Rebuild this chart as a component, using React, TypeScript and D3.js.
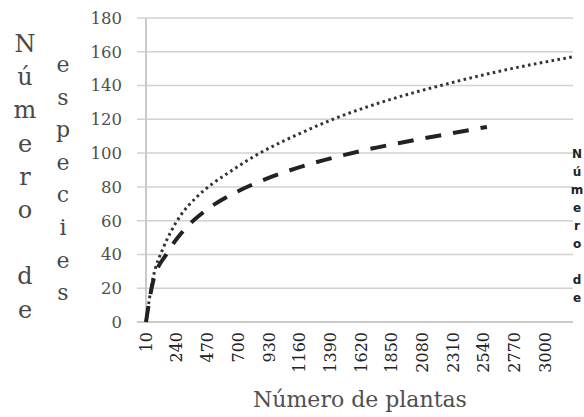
import React from "react";
import * as d3 from "d3";

// curve readings (Número de plantas -> Número de especies)
const dottedX = [10, 60, 140, 200, 260, 390, 510, 640, 840, 1010, 1160, 1410, 1790, 2290, 2660, 3210];
const dottedY = [0, 25, 44, 54, 62, 74, 82, 89, 99, 106, 111.5, 120, 130.5, 141.5, 148.5, 157];
const dashedX = [10, 60, 170, 290, 440, 640, 840, 1040, 1260, 1490, 1690, 1910, 2290, 2565];
const dashedY = [0, 23, 41, 54, 65, 75, 82.5, 88.5, 94, 98.8, 102.5, 106, 111.6, 115.5];

const xTicks = [10, 240, 470, 700, 930, 1160, 1390, 1620, 1850, 2080, 2310, 2540, 2770, 3000];
const yTicks = [0, 20, 40, 60, 80, 100, 120, 140, 160, 180];

const leftCol1 = ["N", "ú", "m", "e", "r", "o", "", "d", "e"];
const leftCol2 = ["e", "s", "p", "e", "c", "i", "e", "s"];
const rightCol = ["N", "ú", "m", "e", "r", "o", "", "d", "e"];

const W = 584;
const H = 417;
const serif = "'DejaVu Serif', serif";

export default function App() {
  const x = d3.scaleLinear().domain([10, 3210]).range([146, 573]);
  const y = d3.scaleLinear().domain([0, 180]).range([322, 18]);

  const line = d3
    .line<[number, number]>()
    .x((d) => x(d[0]))
    .y((d) => y(d[1]))
    .curve(d3.curveMonotoneX);

  const dotted = line(dottedX.map((v, i) => [v, dottedY[i]] as [number, number])) || "";
  const dashed = line(dashedX.map((v, i) => [v, dashedY[i]] as [number, number])) || "";

  return (
    <svg
      width={W}
      height={H}
      style={{ position: "absolute", left: 0, top: 0, background: "#fff" }}
    >
      {/* gridlines */}
      {yTicks.map((t) => (
        <line
          key={t}
          x1={137}
          x2={573}
          y1={y(t)}
          y2={y(t)}
          stroke={t === 0 ? "#b8b8b8" : "#d2d2d2"}
          strokeWidth={1.5}
        />
      ))}
      <line x1={146} x2={146} y1={y(180)} y2={y(0)} stroke="#cacaca" strokeWidth={2} />

      {/* y tick labels */}
      {yTicks.map((t) => (
        <text
          key={t}
          x={122}
          y={y(t)}
          dy="0.36em"
          textAnchor="end"
          fontFamily={serif}
          fontSize={16.5}
          fill="#505050"
        >
          {t}
        </text>
      ))}

      {/* x tick labels */}
      {xTicks.map((t) => (
        <text
          key={t}
          transform={`translate(${x(t)},332) rotate(-90)`}
          dy="0.36em"
          textAnchor="end"
          fontFamily={serif}
          fontSize={16}
          fill="#222"
        >
          {t}
        </text>
      ))}

      {/* curves */}
      <path d={dotted} fill="none" stroke="#333" strokeWidth={3} strokeDasharray="2.6,3.4" />
      <path d={dashed} fill="none" stroke="#222" strokeWidth={4} strokeDasharray="16,12" />

      {/* x title */}
      <text x={360} y={407} textAnchor="middle" fontFamily={serif} fontSize={22} fill="#505050">
        Número de plantas
      </text>

      {/* left y title, stacked letters */}
      {leftCol1.map((c, i) => (
        <text
          key={"a" + i}
          x={25}
          y={52 + i * 33.2}
          textAnchor="middle"
          fontFamily={serif}
          fontSize={24}
          fill="#4a4a4a"
        >
          {c}
        </text>
      ))}
      {leftCol2.map((c, i) => (
        <text
          key={"b" + i}
          x={63}
          y={72 + i * 32.6}
          textAnchor="middle"
          fontFamily={serif}
          fontSize={22}
          fill="#4a4a4a"
        >
          {c}
        </text>
      ))}

      {/* right stacked text */}
      {rightCol.map((c, i) => (
        <text
          key={"c" + i}
          x={577}
          y={158 + i * 18}
          textAnchor="middle"
          fontFamily="'DejaVu Sans', sans-serif"
          fontWeight="bold"
          fontSize={12}
          fill="#222"
        >
          {c}
        </text>
      ))}
    </svg>
  );
}
